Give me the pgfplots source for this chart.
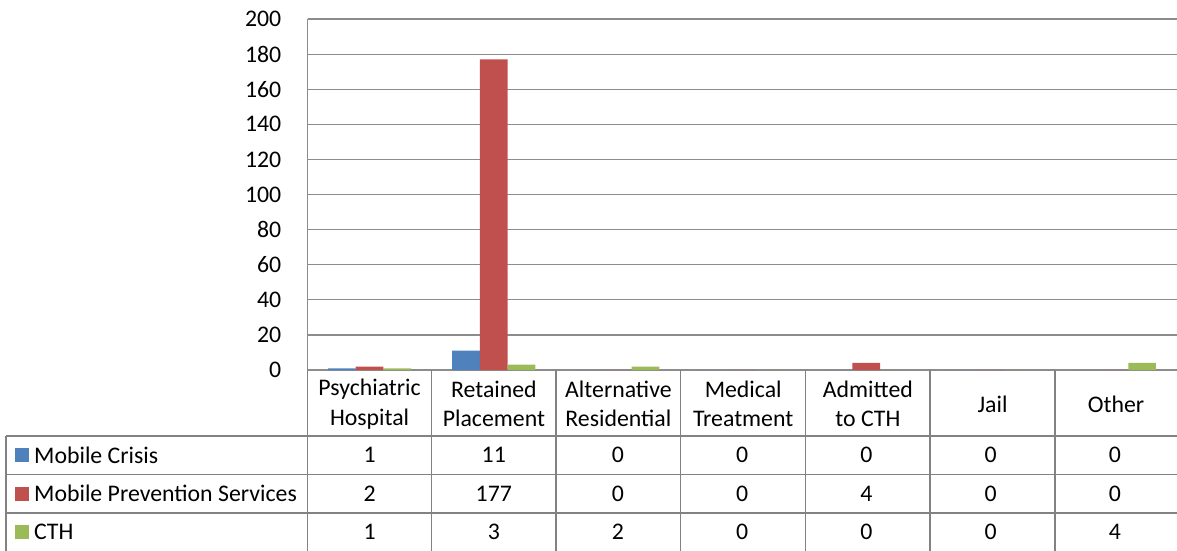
\documentclass[border=0pt]{standalone}
\usepackage{pgfplots}
\pgfplotsset{compat=1.18}
\usepackage{fontspec}
\setmainfont{Carlito}
\definecolor{cblue}{HTML}{4F81BD}
\definecolor{cred}{HTML}{C0504D}
\definecolor{cgreen}{HTML}{9BBB59}
\definecolor{gridc}{HTML}{8C8C8C}
\definecolor{tabc}{HTML}{828282}
\newcommand{\tf}{\fontsize{23.8}{29.5}\selectfont}
\begin{document}
\begin{tikzpicture}
\useasboundingbox (0pt,0pt) rectangle (1177pt,-550pt);
\begin{axis}[
  at={(307.5pt,-370pt)}, anchor=south west,
  scale only axis, width=869pt, height=351pt,
  xmin=-0.5, xmax=6.5, ymin=0, ymax=200,
  ytick distance=20, xtick=\empty,
  axis x line=bottom, axis y line=left,
  axis line style={draw=gridc, line width=1.2pt, -},
  ymajorgrids, grid style={draw=gridc, line width=1.2pt},
  major tick length=0pt,
  /pgf/number format/assume math mode=true,
  yticklabel style={font=\tf, inner sep=0pt, xshift=-26pt, text=black},
  ybar=0pt, bar width=27.7pt,
  clip=false,
]
\addplot[fill=cblue, draw=none] coordinates {(0,1) (1,11) (2,0) (3,0) (4,0) (5,0) (6,0)};
\addplot[fill=cred, draw=none] coordinates {(0,2) (1,177) (2,0) (3,0) (4,4) (5,0) (6,0)};
\addplot[fill=cgreen, draw=none] coordinates {(0,1) (1,3) (2,2) (3,0) (4,0) (5,0) (6,4)};
\end{axis}
% data table grid
\begin{scope}[draw=tabc, line width=1.2pt]
\draw (6pt,-436pt) -- (1177pt,-436pt);
\draw (6pt,-474.5pt) -- (1177pt,-474.5pt);
\draw (6pt,-513pt) -- (1177pt,-513pt);
\draw (6pt,-436pt) -- (6pt,-551pt);
\foreach \x in {307.5,431.7,556,680.7,805.7,930,1055}
  \draw (\x pt,-370pt) -- (\x pt,-551pt);
\end{scope}
% header
\foreach \x/\t in {369.6/{Psychiatric\\Hospital},493.9/{Retained\\Placement},618.4/{Alternative\\Residential},743.2/{Medical\\Treatment},867.9/{Admitted\\to CTH},992.5/{Jail},1116/{Other}}
  \node[font=\tf, align=center, inner sep=0pt] at (\x pt,-404pt) {\t};
% legend column
\fill[cblue] (15pt,-448pt) rectangle (29pt,-462pt);
\fill[cred] (15pt,-486.5pt) rectangle (29pt,-500.5pt);
\fill[cgreen] (15pt,-525pt) rectangle (29pt,-539pt);
\node[font=\tf, anchor=west, inner sep=0pt] at (34pt,-455pt) {Mobile Crisis};
\node[font=\tf, anchor=west, inner sep=0pt] at (34pt,-493.5pt) {Mobile Prevention Services};
\node[font=\tf, anchor=west, inner sep=0pt] at (34pt,-532pt) {CTH};
% values
\foreach \r/\y in {{1,11,0,0,0,0,0}/455,{2,177,0,0,4,0,0}/493.5,{1,3,2,0,0,0,4}/532}{
  \foreach \v [count=\i from 0] in \r {
    \pgfmathsetmacro{\cx}{369.6+124.2*\i}
    \node[font=\tf, inner sep=0pt] at (\cx pt,-\y pt) {\v};
  }
}
\end{tikzpicture}
\end{document}
